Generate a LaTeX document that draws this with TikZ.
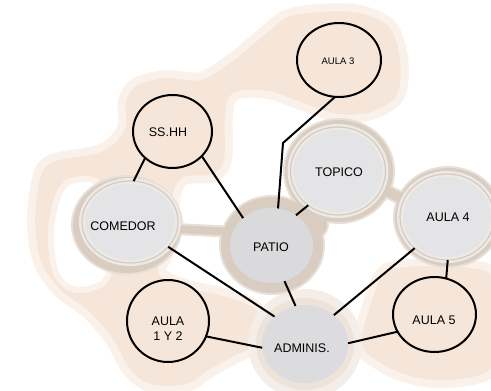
\documentclass[tikz,border=0pt]{standalone}
\usepackage{fontspec}
\setmainfont{Liberation Sans}
\usetikzlibrary{shapes.geometric}
\definecolor{peach}{HTML}{F6E6D9}
\definecolor{peachhalo}{HTML}{FAF1EA}
\definecolor{beige}{HTML}{D9CDC2}
\definecolor{beigehalo}{HTML}{E8E0D8}
\definecolor{ringlight}{HTML}{EDE9E5}
\definecolor{ringline}{HTML}{D6CBC1}
\definecolor{nodegray}{HTML}{E4E4E6}
\definecolor{patiogray}{HTML}{DADADC}
\definecolor{admingray}{HTML}{DCDCDE}
\definecolor{adminhalo}{HTML}{EDE3DA}
\definecolor{adminhaloout}{HTML}{F5EEE8}
\newcommand\beigeblob[2]{%
  \fill[#1] (127,225) ellipse [x radius={54+#2}, y radius={48+#2}];
  \draw[#1, line width={8+2*#2}] (175,229) -- (235,232);
  \fill[#1] (272,245) ellipse [x radius={51+#2}, y radius={48+#2}];
  \fill[#1] (312,224) ellipse [x radius={15+#2}, y radius={15+#2}];
  \fill[#1] (339,171) ellipse [x radius={54+#2}, y radius={51+#2}];
  \draw[#1, line width={10+2*#2}] (380,188) -- (405,200);
  \fill[#1] (448,217) ellipse [x radius={53+#2}, y radius={49+#2}];
}
\tikzset{
  wnode/.style={ellipse, draw=black, line width=2pt, fill=peach, inner sep=0pt, outer sep=0pt},
  rnode/.style={ellipse, fill=nodegray, draw=ringlight, line width=6pt, inner sep=0pt, outer sep=0pt,
    postaction={draw=ringline, line width=1.2pt}},
  gnode/.style={ellipse, inner sep=0pt, outer sep=0pt},
  lbl/.style={font=\fontsize{12.5}{15}\selectfont, inner sep=0pt, align=center},
  conn/.style={draw=black, line width=2pt},
}
\begin{document}
\begin{tikzpicture}[x=1pt,y=-1pt]
\useasboundingbox (0,0) rectangle (491,391);
\clip (0,0) rectangle (491,391);
% peach regions
\path[fill=peach, draw=peachhalo, line width=8pt] plot[smooth cycle, tension=0.55] coordinates {
 (122,100) (135,82) (165,74) (200,76) (230,58) (258,35) (285,14) (320,8) (360,9) (392,24)
 (404,58) (401,96) (375,115) (338,118) (300,106) (268,95) (236,96) (229,115) (228,160)
 (215,178) (185,181) (176,200) (176,235) (168,258) (162,272) (185,283) (220,291) (248,300)
 (262,312) (262,345) (235,360) (213,372) (187,388) (150,388) (127,372) (110,342) (87,315)
 (57,292) (37,262) (31,220) (37,175) (52,158) (100,148) (121,128)};
\path[fill=white, draw=peachhalo, line width=6pt] plot[smooth cycle, tension=0.6] coordinates {
 (75,180) (60,192) (51,230) (55,270) (70,288) (92,288) (108,275) (110,230) (100,185)};
\path[fill=peach, draw=peachhalo, line width=8pt] plot[smooth cycle, tension=0.6] coordinates {
 (385,268) (430,262) (470,264) (495,275) (498,330) (493,372) (450,384) (410,380) (378,366)
 (358,345) (368,300)};
% adminis halo
\fill[adminhaloout] (305,344) ellipse [x radius=57, y radius=55];
\fill[adminhalo] (305,344) ellipse [x radius=49, y radius=46];
% beige blobs
\beigeblob{beigehalo}{2}
\beigeblob{beige}{0}
% nodes
\node[rnode, minimum width=96pt, minimum height=82pt] (comedor) at (130,222) {};
\node[rnode, minimum width=95pt, minimum height=88pt] (topico) at (338,171) {};
\node[rnode, minimum width=94pt, minimum height=86pt] (aula4) at (447,217) {};
\node[gnode, fill=patiogray, minimum width=83pt, minimum height=75pt] (patio) at (271.5,245.5) {};
\node[gnode, fill=admingray, minimum width=86pt, minimum height=78pt] (admin) at (305,344) {};
\node[wnode, minimum width=79pt, minimum height=73pt] (sshh) at (172.5,131.5) {};
\node[wnode, minimum width=84pt, minimum height=74pt] (aula3) at (339,60) {};
\node[wnode, minimum width=82pt, minimum height=82pt] (aula12) at (168,321) {};
\node[wnode, minimum width=83pt, minimum height=75pt] (aula5) at (434.5,314.5) {};
\coordinate (bend) at (283,143);
% connectors
\draw[conn] (sshh.-136) -- (comedor.85);
\draw[conn] (sshh.-40) -- (patio.136);
\draw[conn] (aula3.-96) -- (bend) -- (patio.80);
\draw[conn] (topico.-131) -- (patio.51);
\draw[conn] (comedor.-33) -- (admin.138);
\draw[conn] (patio.-70) -- (admin.104);
\draw[conn] (aula4.-136) -- (admin.45);
\draw[conn] (aula4.-89) -- (aula5.72);
\draw[conn] (aula12.-22) -- (admin.185);
\draw[conn] (admin.1) -- (aula5.-155);
% labels
\node[lbl, font=\fontsize{9.5}{11}\selectfont] (t-aula3) at (338,61) {AULA 3};
\node[lbl] (t-sshh) at (168,132) {SS.HH};
\node[lbl] (t-topico) at (339,172) {TOPICO};
\node[lbl] (t-comedor) at (123,226) {COMEDOR};
\node[lbl] (t-patio) at (271,247) {PATIO};
\node[lbl] (t-aula4) at (448,217) {AULA 4};
\node[lbl] (t-aula12) at (168,329) {AULA\\1 Y 2};
\node[lbl] (t-admin) at (302,348) {ADMINIS.};
\node[lbl] (t-aula5) at (434,320) {AULA 5};
\end{tikzpicture}
\end{document}
